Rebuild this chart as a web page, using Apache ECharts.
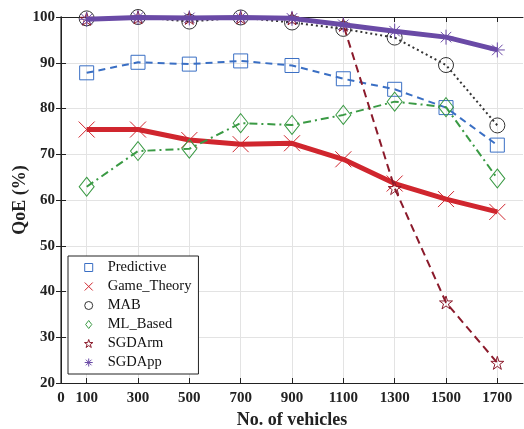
<!DOCTYPE html>
<html><head><meta charset="utf-8">
<script src="https://cdn.jsdelivr.net/npm/echarts@6/dist/echarts.min.js"></script>
<style>html,body{margin:0;padding:0;background:#fff}#c{width:524px;height:429px}</style>
</head><body><div id="c"></div>
<script>
const vehicles = [100, 300, 500, 700, 900, 1100, 1300, 1500, 1700];
const predictive = [87.8, 90.1, 89.7, 90.4, 89.4, 86.5, 84.2, 80.2, 72.0];
const gameTheory = [75.4, 75.4, 73.1, 72.2, 72.4, 68.9, 63.6, 60.2, 57.4];
const mab = [99.7, 100.0, 99.0, 99.9, 98.8, 97.4, 95.5, 89.5, 76.3];
const mlBased = [62.9, 70.7, 71.2, 76.8, 76.4, 78.6, 81.5, 80.3, 64.7];
const sgdArm = [99.6, 99.9, 99.8, 99.9, 99.7, 98.3, 62.6, 37.6, 24.4];
const sgdApp = [99.5, 99.9, 99.8, 99.9, 99.7, 98.3, 96.9, 95.6, 92.8];
const xTickValues = [100, 300, 500, 700, 900, 1100, 1300, 1500, 1700];
const xLabelValues = [0, 100, 300, 500, 700, 900, 1100, 1300, 1500, 1700];

const FONT = 'Liberation Serif';
const X_SYM = 'path://M0,0L10,10M10,0L0,10';
const AST_SYM = 'path://M5,0L5,10M0,5L10,5M1.5,1.5L8.5,8.5M8.5,1.5L1.5,8.5';
const STAR_SYM = 'path://M10,0L12.245,6.91L19.511,6.91L13.633,11.18L15.878,18.09L10,13.82L4.122,18.09L6.367,11.18L0.489,6.91L7.755,6.91Z';
const RECT_SYM = 'path://M0,0L10,0L10,10L0,10Z';
const CIRC_SYM = 'path://M10,5A5,5,0,1,1,0,5A5,5,0,1,1,10,5Z';
const DIAM_SYM = 'path://M5,0L10,6.5L5,13L0,6.5Z';

const COLORS = {
  Predictive: '#3a6fc4', Game_Theory: '#d0262e', MAB: '#333333',
  ML_Based: '#3a9a44', SGDArm: '#8b1a2b', SGDApp: '#6a4aa6'
};

function pts(arr){ return vehicles.map((v,i)=>[v, arr[i]]); }
function mk(name, arr, sym, size, lw, ltype, z){
  const color = COLORS[name];
  return {
    name, type:'line', data: pts(arr), symbol: sym, symbolSize: size, z: z,
    showAllSymbol: true,
    lineStyle: {color: color, width: lw, type: ltype},
    itemStyle: {color: 'rgba(255,255,255,0)', borderColor: color, borderWidth: 1},
    emphasis: {disabled: true}
  };
}
function leg(name, icon){
  return {name, icon, itemStyle: {color:'rgba(255,255,255,0)', borderColor: COLORS[name], borderWidth: 1}};
}
const chart = echarts.init(document.getElementById('c'), null, {renderer:'canvas'});
const axisLabelStyle = {fontFamily: FONT, fontWeight: 'bold', fontSize: 15, color: '#222'};
chart.setOption({
  animation: false,
  backgroundColor: '#fff',
  grid: {left: 61, right: 1, top: 17, bottom: 46, containLabel: false, outerBoundsMode: 'none'},
  legend: {
    orient: 'vertical', left: 68, top: 256,
    itemWidth: 28, itemHeight: 8, itemGap: 4,
    padding: [4, 7, 4, 16],
    backgroundColor: '#fff', borderColor: '#222', borderWidth: 1,
    textStyle: {fontFamily: FONT, fontSize: 14.5, color: '#111'},
    data: [
      leg('Predictive', RECT_SYM),
      leg('Game_Theory', X_SYM),
      leg('MAB', CIRC_SYM),
      leg('ML_Based', DIAM_SYM),
      leg('SGDArm', STAR_SYM),
      leg('SGDApp', AST_SYM)
    ]
  },
  xAxis: [{
    type:'value', min:0, max:1800, position:'bottom',
    name:'No. of vehicles', nameLocation:'middle', nameGap: 28,
    nameTextStyle: {fontFamily: FONT, fontWeight:'bold', fontSize: 18, color:'#222'},
    axisLine: {show:true, lineStyle:{color:'#222', width:1}},
    axisTick: {show:true, inside:true, length:5, customValues: xTickValues, lineStyle:{color:'#222'}},
    axisLabel: Object.assign({customValues: xLabelValues, margin: 8, formatter: v => String(v)}, axisLabelStyle),
    splitLine: {show:true, lineStyle:{color:'#e3e3e3', width:1}}
  },{
    type:'value', min:0, max:1800, position:'top',
    axisLine: {show:true, lineStyle:{color:'#222', width:1}},
    axisTick: {show:true, inside:true, length:5, customValues: xTickValues, lineStyle:{color:'#222'}},
    axisLabel: {show:false},
    splitLine: {show:false}
  }],
  yAxis: [{
    type:'value', min:20, max:100, interval:10, position:'left',
    name:'QoE (%)', nameLocation:'middle', nameGap: 32, nameRotate: 90, nameMoveOverlap: false,
    nameTextStyle: {fontFamily: FONT, fontWeight:'bold', fontSize: 18, color:'#222'},
    axisLine: {show:true, lineStyle:{color:'#555', width:1.5}},
    axisTick: {show:true, inside:true, length:5, lineStyle:{color:'#222'}},
    axisLabel: Object.assign({margin: 6}, axisLabelStyle),
    splitLine: {show:true, lineStyle:{color:'#e3e3e3', width:1}}
  },{
    type:'value', min:20, max:100, interval:10, position:'right',
    axisLine: {show:true, lineStyle:{color:'#222', width:1}},
    axisTick: {show:true, inside:true, length:5, lineStyle:{color:'#222'}},
    axisLabel: {show:false},
    splitLine: {show:false}
  }],
  series: [
    mk('Predictive', predictive, 'rect', 14, 2, [7,5], 3),
    mk('Game_Theory', gameTheory, X_SYM, 16, 5, 'solid', 4),
    mk('MAB', mab, 'circle', 15, 2, [2,3], 5),
    mk('ML_Based', mlBased, 'diamond', [15,19], 2, [8,4,2,4], 6),
    mk('SGDArm', sgdArm, STAR_SYM, 13, 2, [8,5], 7),
    mk('SGDApp', sgdApp, AST_SYM, 15, 5, 'solid', 8)
  ]
});
</script></body></html>
